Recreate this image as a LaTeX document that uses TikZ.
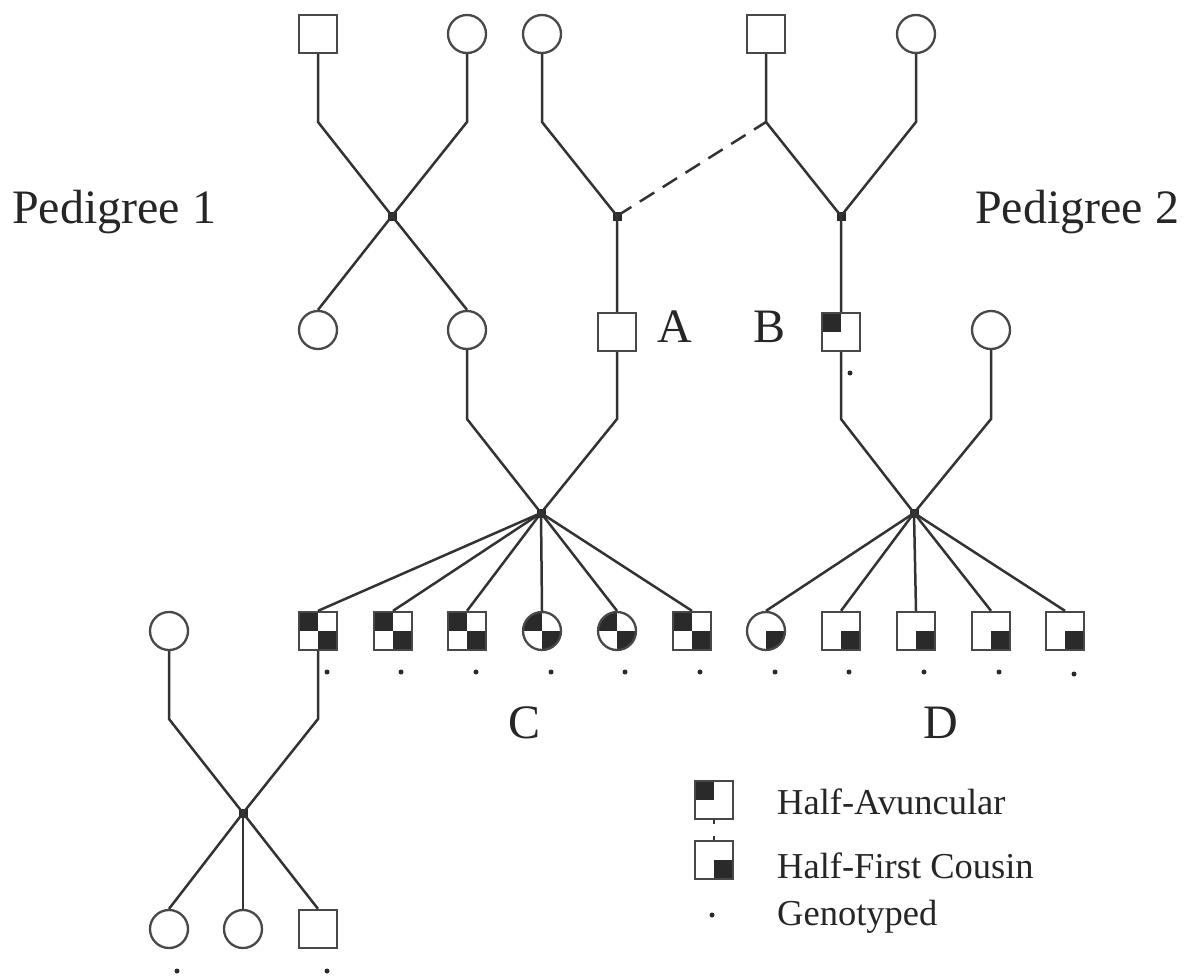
\documentclass[tikz,border=0pt]{standalone}
\usepackage{fontspec}
\setmainfont{Liberation Serif}
\definecolor{lc}{HTML}{333333}
\definecolor{oc}{HTML}{484848}
\definecolor{fc}{HTML}{2A2A2A}
\begin{document}
\begin{tikzpicture}[x=1pt,y=-1pt,
  ln/.style={line width=2.5pt, draw=lc},
  person/.style={draw=oc, line width=2.3pt, fill=white, minimum size=38pt, inner sep=0pt},
  male/.style={person, rectangle},
  female/.style={person, circle},
  tl/.style={path picture={\fill[fc] (path picture bounding box.north west) rectangle (path picture bounding box.center);}},
  br/.style={path picture={\fill[fc] (path picture bounding box.south east) rectangle (path picture bounding box.center);}},
  checker/.style={path picture={\fill[fc] (path picture bounding box.north west) rectangle (path picture bounding box.center);
      \fill[fc] (path picture bounding box.south east) rectangle (path picture bounding box.center);}},
  mdot/.style={rectangle, fill=fc, minimum size=9pt, inner sep=0pt},
  gdot/.style={circle, fill=fc, minimum size=5pt, inner sep=0pt},
  big/.style={inner sep=0pt, anchor=base west, font=\fontsize{48}{50}\selectfont, text=black!85},
  leg/.style={inner sep=0pt, anchor=base west, font=\fontsize{36.5}{38}\selectfont, text=black!85}
]
\useasboundingbox (0,0) rectangle (1191,977);
\fill[white] (0,0) rectangle (1191,977);

% ---- top-left family
\node[male] (m1) at (318,34) {};
\node[female] (f1) at (467,34) {};
\node[mdot] (x1) at (392,216) {};
\node[female] (f2) at (318,330) {};
\node[female] (f3) at (467,330) {};
\coordinate (b1) at (318,122);
\coordinate (b2) at (467,122);
\draw[ln] (m1) -- (b1) -- (x1.center) -- (f3.north);
\draw[ln] (f1) -- (b2) -- (x1.center) -- (f2.north);

% ---- top-middle / right
\node[female] (f4) at (542,34) {};
\node[male] (m2) at (766,34) {};
\node[female] (f5) at (916,34) {};
\node[mdot] (x2) at (617,216) {};
\node[mdot] (x3) at (841,216) {};
\coordinate (b3) at (542,122);
\coordinate (b4) at (766,122);
\coordinate (b5) at (916,122);
\node[male] (A) at (617,332) {};
\node[male,tl] (B) at (841,332) {};
\node[female] (f6) at (991,330) {};
\draw[ln] (f4) -- (b3) -- (x2.center) -- (A);
\draw[ln, dash pattern=on 17pt off 10pt] (x2.center) -- (b4);
\draw[ln] (m2) -- (b4) -- (x3.center) -- (B);
\draw[ln] (f5) -- (b5) -- (x3.center);

% ---- second generation marriages
\node[mdot] (xC) at (541,513) {};
\node[mdot] (xD) at (914,513) {};
\coordinate (b6) at (467,419);
\coordinate (b7) at (617,419);
\coordinate (b8) at (841,419);
\coordinate (b9) at (991,419);
\draw[ln] (f3) -- (b6) -- (xC.center);
\draw[ln] (A) -- (b7) -- (xC.center);
\draw[ln] (B) -- (b8) -- (xD.center);
\draw[ln] (f6) -- (b9) -- (xD.center);

% ---- children C
\node[male,checker] (c1) at (318,631) {};
\node[male,checker] (c2) at (393,631) {};
\node[male,checker] (c3) at (467,631) {};
\node[female,checker] (c4) at (542,631) {};
\node[female,checker] (c5) at (617,631) {};
\node[male,checker] (c6) at (692,631) {};
\foreach \i in {1,...,6} { \draw[ln] (xC.center) -- (c\i.north); }

% ---- children D
\node[female,br] (d1) at (766,631) {};
\node[male,br] (d2) at (841,631) {};
\node[male,br] (d3) at (916,631) {};
\node[male,br] (d4) at (991,631) {};
\node[male,br] (d5) at (1065,631) {};
\foreach \i in {1,...,5} { \draw[ln] (xD.center) -- (d\i.north); }

% ---- lower-left family
\node[female] (f7) at (169,631) {};
\node[mdot] (xE) at (243,813) {};
\coordinate (b10) at (169,719);
\coordinate (b11) at (318,719);
\node[female] (e1) at (169,929) {};
\node[female] (e2) at (243,929) {};
\node[male] (e3) at (318,929) {};
\draw[ln] (f7) -- (b10) -- (xE.center) -- (e3.north);
\draw[ln] (c1) -- (b11) -- (xE.center) -- (e1.north);
\draw[ln] (xE.center) -- (e2.north);

% ---- genotyped dots
\node[gdot] (gB) at (850,373) {};
\node[gdot] (g1) at (327,672) {};
\node[gdot] (g2) at (401,672) {};
\node[gdot] (g3) at (476,672) {};
\node[gdot] (g4) at (551,672) {};
\node[gdot] (g5) at (625,672) {};
\node[gdot] (g6) at (700,672) {};
\node[gdot] (h1) at (775,672) {};
\node[gdot] (h2) at (849,672) {};
\node[gdot] (h3) at (924,672) {};
\node[gdot] (h4) at (999,672) {};
\node[gdot] (h5) at (1074,674) {};
\node[gdot] (k1) at (177,971) {};
\node[gdot] (k2) at (327,971) {};

% ---- labels
\node[big] (p1) at (12,223) {Pedigree 1};
\node[big] (p2) at (975,223) {Pedigree 2};
\node[big] (lA) at (657,342) {A};
\node[big] (lB) at (753,342) {B};
\node[big] (lC) at (508,738) {C};
\node[big] (lD) at (923,738) {D};

% ---- legend
\node[male,tl] (L1) at (714,800) {};
\node[male,br] (L2) at (714,860) {};
\node[gdot] (L3) at (712,915) {};
\draw[ln, line width=1.5pt] (L1.south) -- ++(0,4);
\draw[ln, line width=1.5pt] (L2.north) -- ++(0,-4);
\node[leg] (t1) at (777,814) {Half-Avuncular};
\node[leg] (t2) at (777,878) {Half-First Cousin};
\node[leg] (t3) at (777,925) {Genotyped};
\end{tikzpicture}
\end{document}
